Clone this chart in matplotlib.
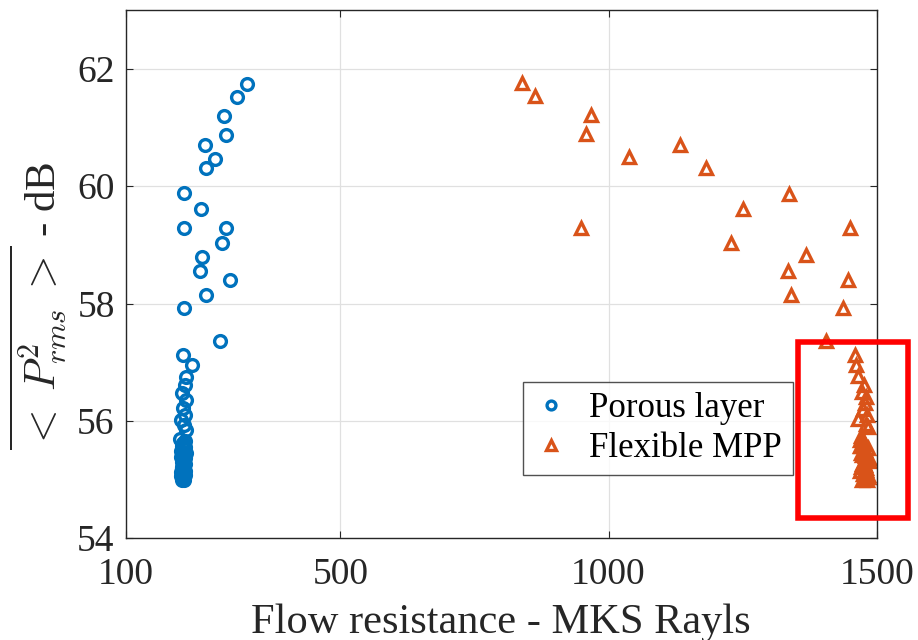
import matplotlib.pyplot as plt
from matplotlib.patches import Rectangle

# porous layer points (flow resistance, dB)
porous_x = [326, 307, 283, 287, 248, 266, 250, 208, 240, 208, 287, 279, 242, 238,
            249, 294, 208, 276, 207, 224, 212,
            210, 204, 212, 206, 210, 203, 208, 212, 202, 206, 210, 203, 207, 211,
            204, 209, 205, 210, 206, 203, 208, 205,
            211, 204, 208, 212, 203, 207, 210, 205, 209, 204, 211, 206, 208, 203,
            210, 206, 209, 204]
porous_y = [61.75, 61.52, 61.20, 60.88, 60.70, 60.47, 60.31, 59.89, 59.62, 59.28,
            59.29, 59.04, 58.80, 58.56, 58.14, 58.41, 57.93, 57.37, 57.13, 56.96, 56.74,
            56.62, 56.48, 56.35, 56.22, 56.10, 56.02, 55.93, 55.85, 55.70, 55.62,
            55.55, 55.48, 55.42, 55.36, 55.30, 55.25, 55.20, 55.15, 55.10, 55.06,
            55.02, 54.99,
            55.66, 55.58, 55.52, 55.45, 55.39, 55.33, 55.27, 55.22, 55.17, 55.12,
            55.08, 55.04, 55.00, 55.13, 55.40, 55.60, 55.35, 55.18]

# flexible MPP points
mpp_x = [838, 863, 967, 958, 1038, 1134, 1182, 1250, 949, 1229, 1336, 1369, 1334,
         1341, 1451, 1446, 1438, 1405, 1459, 1462, 1466,
         1476, 1472, 1480, 1478, 1474, 1482, 1466, 1480, 1484, 1470, 1474, 1468,
         1478, 1472, 1482, 1476, 1470, 1480, 1474, 1484, 1478, 1482,
         1469, 1476, 1483, 1471, 1479, 1485, 1473, 1481, 1468, 1477, 1484, 1472,
         1480, 1486, 1470, 1478, 1475, 1483]
mpp_y = [61.76, 61.54, 61.22, 60.89, 60.49, 60.71, 60.31, 59.62, 59.28, 59.04,
         59.87, 58.82, 58.56, 58.14, 59.28, 58.41, 57.93, 57.37, 57.13, 56.96, 56.77,
         56.62, 56.50, 56.40, 56.30, 56.20, 56.10, 56.04, 55.95, 55.89, 55.75,
         55.65, 55.58, 55.50, 55.42, 55.35, 55.28, 55.22, 55.16, 55.10, 55.05,
         55.01, 54.99,
         55.68, 55.60, 55.54, 55.46, 55.40, 55.32, 55.26, 55.20, 55.14, 55.09,
         55.04, 55.00, 55.12, 55.37, 55.57, 55.24, 55.44, 55.07]

xticks = [100, 500, 1000, 1500]
yticks = [54, 56, 58, 60, 62]

plt.rcParams['font.family'] = ['Liberation Serif', 'DejaVu Serif']
plt.rcParams['mathtext.fontset'] = 'cm'

fig = plt.figure(figsize=(9.18, 6.4), dpi=100)
ax = fig.add_axes([0.137, 0.159, 0.818, 0.825])

ax.plot(porous_x, porous_y, 'o', ls='none', mfc='none', mec='#0072BD',
        ms=8.5, mew=2.4, label='Porous layer')
ax.plot(mpp_x, mpp_y, '^', ls='none', mfc='none', mec='#D95319',
        ms=9, mew=2.4, label='Flexible MPP')

ax.set_xlim(100, 1500)
ax.set_ylim(54, 63)
ax.set_xticks(xticks)
ax.set_yticks(yticks)
ax.grid(True, color='#e0e0e0', lw=0.9)
ax.set_axisbelow(True)
ax.tick_params(direction='in', top=True, right=True, labelsize=27,
               colors='#262626', length=5)
ax.tick_params(axis='x', pad=14)
ax.tick_params(axis='y', pad=8)
for s in ax.spines.values():
    s.set_color('#262626')
    s.set_linewidth(1.0)

ax.set_xlabel('Flow resistance - MKS Rayls', fontsize=30.5, color='#262626',
              labelpad=8)
ax.set_ylabel(r'$\overline{<\;P_{rms}^2\;>}$ - dB', fontsize=31, color='#262626')
ax.yaxis.set_label_coords(-0.075, 0.44)

leg = ax.legend(loc='lower right', bbox_to_anchor=(0.888, 0.119), fontsize=25,
                frameon=True, fancybox=False, edgecolor='#262626',
                handletextpad=0.6, borderpad=0.3, labelspacing=0.2,
                handlelength=1.0, markerscale=0.75, borderaxespad=0)
leg.get_frame().set_linewidth(1.0)

# highlight box around the dense MPP cluster
ax.add_patch(Rectangle((1354, 54.34), 204, 3.0, fill=False, ec='red',
                       lw=4, clip_on=False, zorder=5))

fig.savefig('out.png', dpi=100)
